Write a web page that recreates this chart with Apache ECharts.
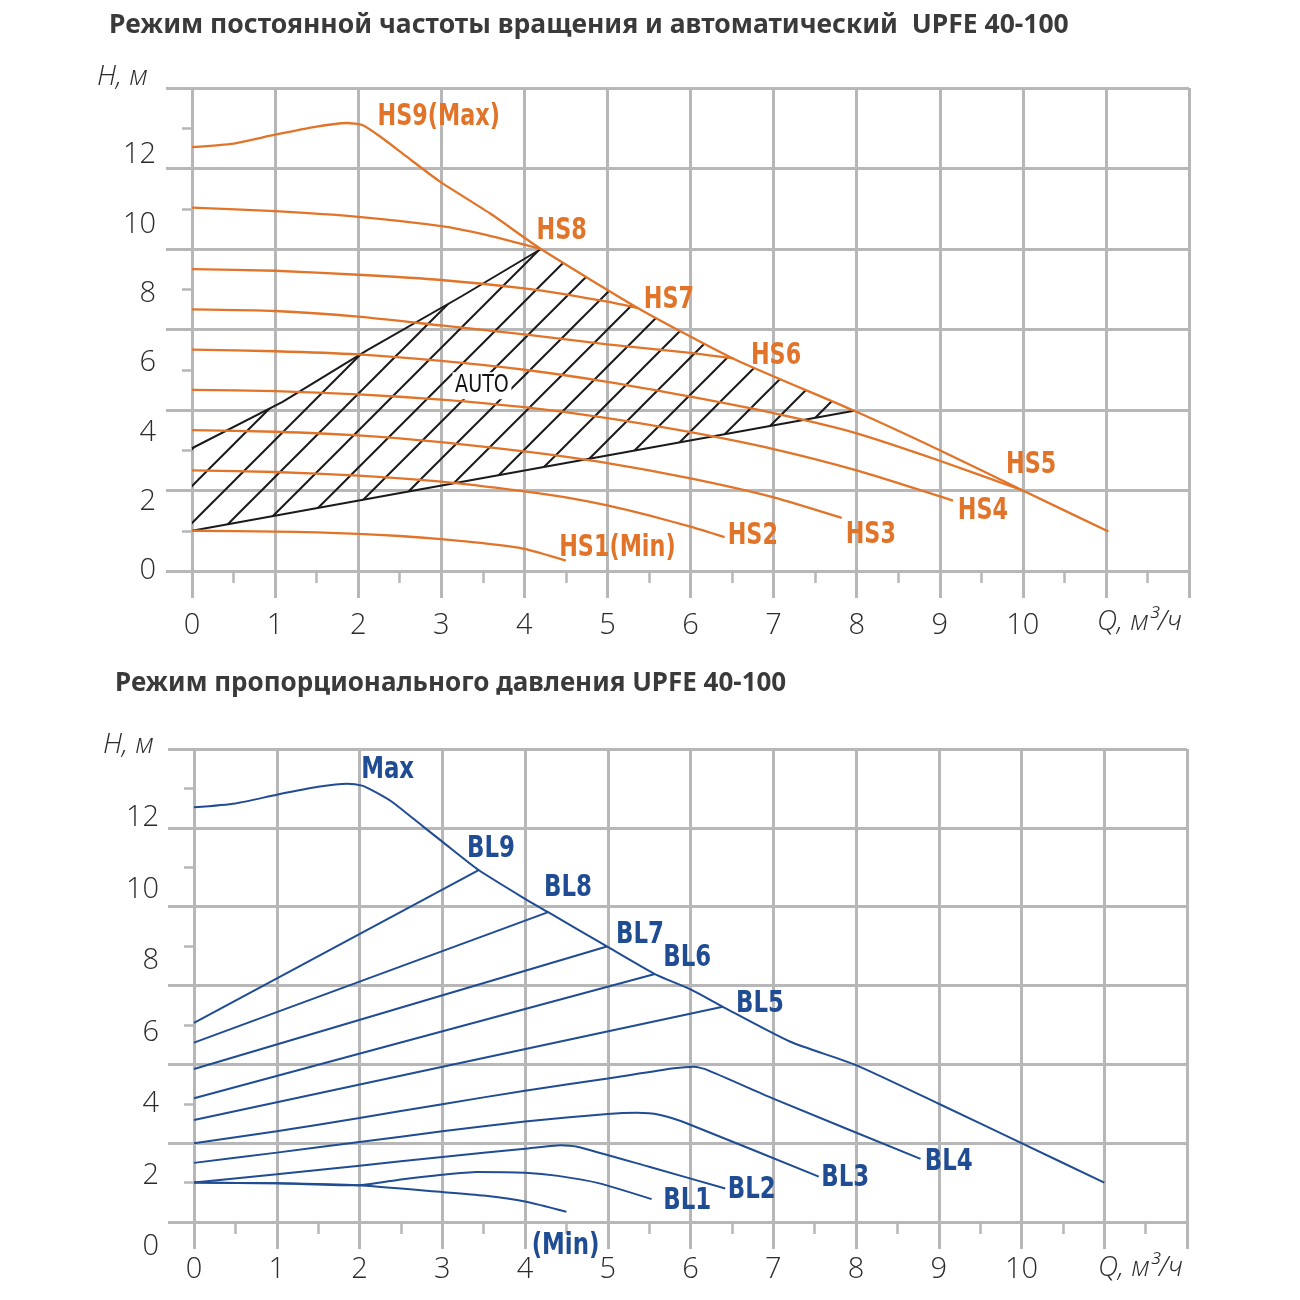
<!DOCTYPE html>
<html><head><meta charset="utf-8">
<script src="https://cdn.jsdelivr.net/npm/echarts@6/dist/echarts.min.js"></script>
<style>html,body{margin:0;padding:0;background:#fff}#c{width:1300px;height:1300px}</style>
</head><body><div id="c"></div>
<script>
// ---------- tick labels ----------
const xTickLabels = ['0','1','2','3','4','5','6','7','8','9','10'];
const yTickLabels = ['0','2','4','6','8','10','12'];

// ---------- top chart: constant speed (Q m3/h, H m) ----------
const hs1 = [[0,1.0],[1,0.98],[1.5,0.96],[2,0.92],[2.5,0.87],[3,0.79],[3.5,0.69],[4,0.55],[4.5,0.26]];
const hs2 = [[0,2.5],[1,2.46],[2,2.37],[3,2.22],[4,1.98],[4.5,1.83],[5,1.63],[5.5,1.38],[6,1.1],[6.41,0.84]];
const hs3 = [[0,3.5],[1,3.46],[2,3.37],[3,3.2],[4,2.97],[5,2.68],[6,2.3],[7,1.83],[7.82,1.32]];
const hs4 = [[0,4.5],[1,4.47],[2,4.39],[3,4.26],[4,4.07],[5,3.8],[6,3.45],[7,3.03],[8,2.5],[9.16,1.75]];
const hs5 = [[0,5.5],[1,5.46],[2,5.38],[3,5.22],[4,5.0],[5,4.7],[6,4.33],[7,3.92],[8,3.42],[9,2.74],[10,2.0]];
const hs6 = [[0,6.5],[1,6.46],[2,6.32],[3,6.1],[4,5.88],[5,5.63],[6,5.42],[6.52,5.28]];
const hs7 = [[0,7.5],[1,7.46],[2,7.36],[3,7.23],[4,7.02],[4.5,6.87],[5,6.69],[5.37,6.53]];
const hs8 = [[0,9.03],[1,8.94],[2,8.8],[3,8.57],[3.5,8.37],[4.2,8.0]];
const hs9 = [[0,10.53],[0.5,10.62],[1,10.84],[1.5,11.04],[1.86,11.13],[2.05,11.08],[2.26,10.8],[2.58,10.3],[2.98,9.68],[3.59,8.88],[4.2,8.0],[5.37,6.53],[6.51,5.28],[7.97,3.98],[9,3.0],[10,2.0],[11.03,0.98]];
const autoUpper = [[0,3.05],[1.09,4.2],[2.11,5.49],[3.24,6.82],[4.2,8.0]];
const autoLower = [[0,1.0],[7.97,3.98]];
const hsNames = ['HS1(Min)','HS2','HS3','HS4','HS5','HS6','HS7','HS8','HS9(Max)'];
const hsLabelAt = [[5.12,0.58],[6.75,0.87],[8.17,0.89],[9.52,1.49],[10.1,2.63],[7.03,5.34],[5.74,6.73],[4.45,8.45],[2.97,11.28]];
const autoNames = ['AUTO'];
const autoLabelAt = [[3.49,4.6]];

// ---------- bottom chart: proportional pressure ----------
const blMax = [[0,10.52],[0.5,10.62],[1,10.84],[1.5,11.04],[1.85,11.12],[2.03,11.07],[2.2,10.9],[2.4,10.65],[2.77,10.03],[3.0,9.65],[3.44,8.93],[4.0,8.2],[4.28,7.86],[4.99,6.99],[5.57,6.29],[6.0,5.9],[6.39,5.46],[7.2,4.58],[8.0,3.98],[9,3.0],[10,2.0],[11,1.0]];
const bl9 = [[0,5.05],[3.44,8.93]];
const bl8 = [[0,4.55],[4.28,7.86]];
const bl7 = [[0,3.88],[4.99,6.99]];
const bl6 = [[0,3.14],[5.57,6.29]];
const bl5 = [[0,2.59],[6.39,5.46]];
const bl4 = [[0,2.0],[1,2.3],[2,2.64],[3,2.99],[4,3.33],[5,3.64],[5.8,3.9],[6.04,3.94],[6.2,3.86],[7,3.13],[8.78,1.6]];
const bl3 = [[0,1.5],[1,1.76],[2,2.03],[3,2.3],[4,2.55],[5,2.74],[5.35,2.77],[5.62,2.72],[5.96,2.5],[7.55,1.15]];
const bl2 = [[0,1.0],[1,1.21],[2,1.43],[3,1.65],[4,1.86],[4.43,1.95],[4.63,1.91],[5.5,1.4],[6.42,0.85]];
const bl1 = [[0,1.0],[1,0.98],[1.97,0.93],[2.5,1.08],[3.0,1.2],[3.42,1.27],[4.0,1.25],[4.4,1.17],[4.9,0.98],[5.53,0.58]];
const blMin = [[0,1.0],[1,0.98],[1.97,0.93],[3,0.76],[3.5,0.67],[4,0.52],[4.5,0.26]];
const blNames = ['Max','BL9','BL8','BL7','BL6','BL5','BL4','BL3','BL2','BL1','(Min)'];
const blLabelAt = [[2.34,11.47],[3.59,9.46],[4.52,8.47],[5.39,7.28],[5.96,6.69],[6.84,5.53],[9.12,1.52],[7.87,1.12],[6.74,0.81],[5.96,0.53],[4.49,-0.61]];

// ---------- styles ----------
const C_OR = '#e2742a', C_BL = '#1f4c93', C_GRID = '#b7b7b7', C_TXT = '#2b2b2b';
const NARROW = "'Liberation Sans Narrow','DejaVu Sans Condensed',sans-serif";
const REG = "'Open Sans','Noto Sans',sans-serif";

const TILE = 37;
const hatch = document.createElement('canvas');
hatch.width = TILE; hatch.height = TILE;
(function(){
  const g = hatch.getContext('2d');
  g.strokeStyle = '#1a1a1a'; g.lineWidth = 2;
  [0,TILE,2*TILE].forEach(c => { g.beginPath(); g.moveTo(c+6,-6); g.lineTo(c-TILE-6,TILE+6); g.stroke(); });
})();

const autoPoly = [].concat(
  autoLower,
  hs9.filter(p => p[0] > autoUpper[autoUpper.length-1][0] && p[0] < autoLower[autoLower.length-1][0]).reverse(),
  autoUpper.slice().reverse()
);

function mainX(gi, margin){
  return {gridIndex:gi, type:'value', min:0, max:12, interval:1,
    axisLine:{show:true, onZero:false, lineStyle:{color:C_GRID, width:3}},
    axisTick:{show:true, length:27, lineStyle:{color:C_GRID, width:3}},
    minorTick:{show:true, splitNumber:2, length:12, lineStyle:{color:C_GRID, width:2.5}},
    splitLine:{show:true, lineStyle:{color:C_GRID, width:3}},
    axisLabel:{margin:margin, fontSize:29, fontWeight:300, color:C_TXT, fontFamily:REG,
      formatter: v => (xTickLabels[v] !== undefined ? xTickLabels[v] : '')}};
}
function mainY(gi){
  return {gridIndex:gi, type:'value', min:0, max:12, interval:2,
    axisLine:{show:false},
    axisTick:{show:true, length:26, lineStyle:{color:C_GRID, width:3}},
    minorTick:{show:true, splitNumber:2, length:10, lineStyle:{color:C_GRID, width:2.5}},
    splitLine:{show:true, lineStyle:{color:C_GRID, width:3}},
    axisLabel:{show:false}};
}
function labelY(gi, margin){
  return {gridIndex:gi, type:'value', min:0, max:12, interval:2,
    axisLine:{show:false}, axisTick:{show:false}, splitLine:{show:false},
    axisLabel:{margin:margin, fontSize:29, fontWeight:300, color:C_TXT, fontFamily:REG,
      formatter: v => yTickLabels[v/2]}};
}
const hiddenX = gi => ({gridIndex:gi, type:'value', min:0, max:12, show:false});

function curve(data, color, ai, width, smooth){
  return {type:'line', xAxisIndex:ai, yAxisIndex:ai, data:data, symbol:'none', showSymbol:false,
    smooth:smooth === undefined ? 0.2 : smooth, lineStyle:{color:color, width:width||2.3}, silent:true, z:4};
}
function labels(names, at, color, ai, size, weight, sx, extra){
  return {type:'custom', xAxisIndex:ai, yAxisIndex:ai, silent:true, z:10, clip:false,
    data: at.map((p,i) => [p[0], p[1], i]),
    renderItem:(params, api) => {
      const c = api.coord([api.value(0), api.value(1)]);
      return {type:'text', x:c[0], y:c[1], scaleX:sx, z2:10,
        style:Object.assign({text:names[api.value(2)], fill:color,
          font: weight + ' ' + size + 'px ' + NARROW, align:'center', verticalAlign:'middle'}, extra || {})};
    }};
}

const series = [];
// AUTO hatched area
series.push({type:'custom', xAxisIndex:0, yAxisIndex:0, data:[[0,0]], silent:true, z:2,
  renderItem:(params, api) => ({type:'polygon', shape:{points: autoPoly.map(p => api.coord(p))},
    style:{fill:{image:hatch, repeat:'repeat', x:12, y:0}, stroke:null}})});
series.push(curve(autoUpper, '#1a1a1a', 0, 2, false));
series.push(curve(autoLower, '#1a1a1a', 0, 2, false));
[hs1,hs2,hs3,hs4,hs5,hs6,hs7,hs8,hs9].forEach(d => series.push(curve(d, C_OR, 0)));
series.push(labels(hsNames, hsLabelAt, C_OR, 0, 31, 'bold', 0.8));
series.push(labels(autoNames, autoLabelAt, '#111', 0, 25, 'normal', 0.85, {backgroundColor:'#fff', padding:[1,3]}));

[blMax,bl4,bl3,bl2,bl1,blMin].forEach(d => series.push(curve(d, C_BL, 2, 2)));
[bl9,bl8,bl7,bl6,bl5].forEach(d => series.push(curve(d, C_BL, 2, 2, false)));
series.push(labels(blNames, blLabelAt, C_BL, 2, 31, 'bold', 0.82));

const option = {
  animation:false,
  backgroundColor:'#fff',
  title:[
    {text:'Режим постоянной частоты вращения и автоматический  UPFE 40-100', left:104, top:7,
     textStyle:{fontSize:26.5, fontWeight:'bold', color:'#3a3a3a', fontFamily:"'Noto Sans',sans-serif"}},
    {text:'Режим пропорционального давления UPFE 40-100', left:110, top:666,
     textStyle:{fontSize:26, fontWeight:'bold', color:'#3a3a3a', fontFamily:"'Noto Sans',sans-serif"}}
  ],
  grid:[
    {left:192, right:111, top:88, bottom:729},
    {left:192, right:111, top:155, bottom:729},
    {left:194, right:113, top:749, bottom:78},
    {left:194, right:113, top:818, bottom:53}
  ],
  xAxis:[mainX(0,40), hiddenX(1), mainX(2,33), hiddenX(3)],
  yAxis:[mainY(0), labelY(1,36), mainY(2), labelY(3,35)],
  graphic:[
    {type:'text', left:97, top:63, style:{text:'H, м', font:"italic 300 28px 'Open Sans'", fill:C_TXT}},
    {type:'text', left:103, top:731, style:{text:'H, м', font:"italic 300 28px 'Open Sans'", fill:C_TXT}},
    {type:'text', left:1097, top:608, style:{text:'Q, м³/ч', font:"italic 300 28px 'Open Sans'", fill:C_TXT}},
    {type:'text', left:1098, top:1254, style:{text:'Q, м³/ч', font:"italic 300 28px 'Open Sans'", fill:C_TXT}}
  ],
  series:series
};
const chart = echarts.init(document.getElementById('c'));
chart.setOption(option);
</script></body></html>
